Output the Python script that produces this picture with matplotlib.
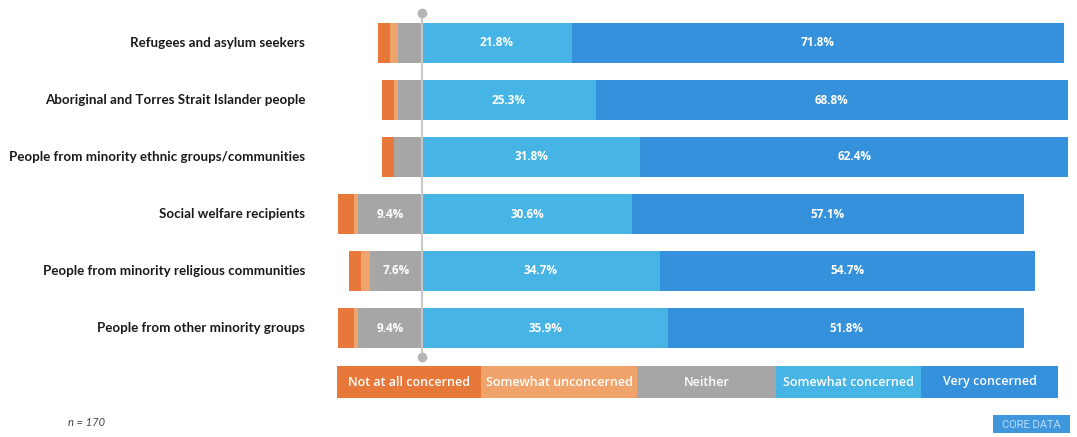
import matplotlib
matplotlib.use("Agg")
import matplotlib.pyplot as plt
from matplotlib.patches import Rectangle

categories = [
    "Refugees and asylum seekers",
    "Aboriginal and Torres Strait Islander people",
    "People from minority ethnic groups/communities",
    "Social welfare recipients",
    "People from minority religious communities",
    "People from other minority groups",
]
not_at_all = [1.8, 1.8, 1.7, 2.4, 1.7, 2.4]
somewhat_unconcerned = [1.1, 0.6, 0.0, 0.5, 1.3, 0.5]
neither = [3.5, 3.5, 4.1, 9.4, 7.6, 9.4]
somewhat_concerned = [21.8, 25.3, 31.8, 30.6, 34.7, 35.9]
very_concerned = [71.8, 68.8, 62.4, 57.1, 54.7, 51.8]

legend_labels = ["Not at all concerned", "Somewhat unconcerned", "Neither",
                 "Somewhat concerned", "Very concerned"]
colors = ["#E8773A", "#F0A36A", "#A6A6A6", "#47B4E6", "#3591DC"]
sample_note = "n = 170"
brand = "CORE DATA"

W, H = 1077, 437
fig = plt.figure(figsize=(W / 100, H / 100), dpi=100)
fig.patch.set_facecolor("white")

# Main axes: x in percent (0 = neutral divide), y in category index
ax = fig.add_axes([0, 0, 1, 1])
px_per_pct = 6.86
x0_px = 422
ax.set_xlim(-x0_px / px_per_pct, (W - x0_px) / px_per_pct)
row0_px, row_step = 43, 57
ax.set_ylim((H - row0_px) / row_step, -row0_px / row_step)
ax.axis("off")

bar_h = 0.71
for i in range(len(categories)):
    # negative side: neither nearest zero, then somewhat unconcerned, then not at all
    left = 0.0
    for val, col in [(neither[i], colors[2]), (somewhat_unconcerned[i], colors[1]),
                     (not_at_all[i], colors[0])]:
        left -= val
        if val > 0:
            ax.barh(i, val, left=left, height=bar_h, color=col, edgecolor="none", zorder=2)
        if val >= 5:
            ax.text(left + val / 2, i, f"{val:.1f}%", ha="center", va="center",
                    color="white", fontsize=8.5, fontweight="bold", family="Open Sans", zorder=4)
    left = 0.0
    for val, col in [(somewhat_concerned[i], colors[3]), (very_concerned[i], colors[4])]:
        ax.barh(i, val, left=left, height=bar_h, color=col, edgecolor="none", zorder=2)
        ax.text(left + val / 2, i, f"{val:.1f}%", ha="center", va="center",
                color="white", fontsize=8.5, fontweight="bold", family="Open Sans", zorder=4)
        left += val
    ax.text((305 - x0_px) / px_per_pct, i, categories[i], ha="right", va="center",
            fontsize=9.6, fontweight="bold", family="Lato", color="#1A1A1A")

# Zero divider with end dots
y_top = (13 - row0_px) / row_step
y_bot = (357 - row0_px) / row_step
ax.plot([0, 0], [y_top, y_bot], color="#C8C8C8", lw=1.5, zorder=3)
ax.plot([0, 0], [y_top, y_bot], linestyle="none", marker="o", ms=6,
        color="#B5B5B5", zorder=3)

# Overlay axes in pixel units for the legend and footer
ov = fig.add_axes([0, 0, 1, 1])
ov.set_xlim(0, W)
ov.set_ylim(H, 0)
ov.axis("off")
ov.patch.set_alpha(0)

bounds = [337, 481, 637, 776, 921, 1058]
for k, lab in enumerate(legend_labels):
    ov.add_patch(Rectangle((bounds[k], 366), bounds[k + 1] - bounds[k], 32,
                           facecolor=colors[k], edgecolor="none"))
    ov.text((bounds[k] + bounds[k + 1]) / 2, 382, lab, ha="center", va="center",
            color="white", fontsize=9, fontweight="semibold", family="Open Sans")

ov.text(68, 423, sample_note, ha="left", va="center", fontsize=8,
        style="italic", color="#444444", family="Lato")

ov.add_patch(Rectangle((993, 415), 77, 18, facecolor="#3F97DE", edgecolor="none"))
ov.text(1031.5, 424.5, brand, ha="center", va="center", fontsize=8,
        color="#B8DCF6", family="Roboto")

fig.savefig("out.png", dpi=100, facecolor="white")
